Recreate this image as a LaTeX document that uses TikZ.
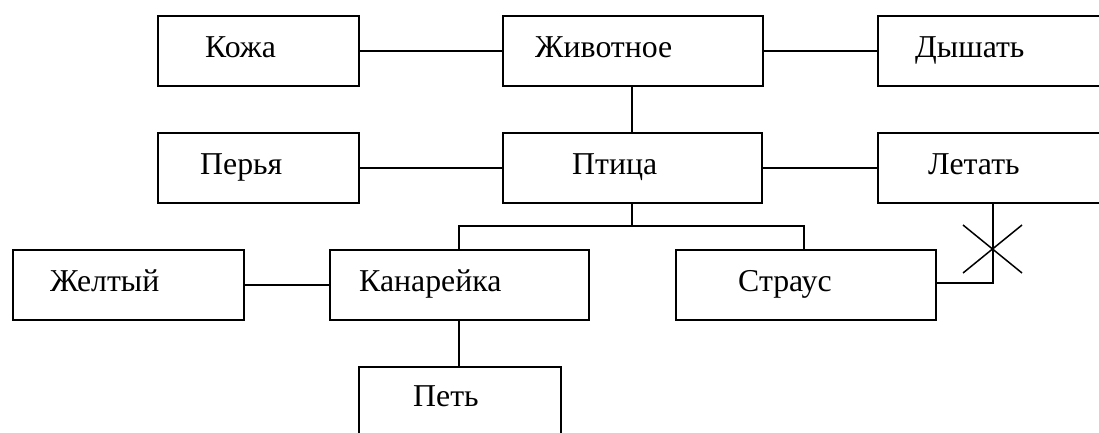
\documentclass[tikz,border=0pt]{standalone}
\usepackage{fontspec}
\setmainfont{Liberation Serif}
\begin{document}
\begin{tikzpicture}[x=1pt,y=-1pt,
  box/.style={draw,line width=2pt,rectangle,inner sep=0pt,anchor=north west,minimum height=70pt},
  lbl/.style={anchor=base west,inner sep=0pt,font=\fontsize{31.8}{36}\selectfont},
  conn/.style={line width=2pt}]
\useasboundingbox (0,0) rectangle (1099,432);
\clip (0,0) rectangle (1099,432);
% boxes
\node[box,minimum width=201pt] (kozha) at (157,15) {};
\node[box,minimum width=260pt] (zhiv) at (502,15) {};
\node[box,minimum width=260pt] (dysh) at (877,15) {};
\node[box,minimum width=201pt] (perya) at (157,132) {};
\node[box,minimum width=259pt] (ptica) at (502,132) {};
\node[box,minimum width=260pt] (letat) at (877,132) {};
\node[box,minimum width=231pt] (zhelt) at (12,249) {};
\node[box,minimum width=259pt] (kanar) at (329,249) {};
\node[box,minimum width=260pt] (straus) at (675,249) {};
\node[box,minimum width=202pt,minimum height=80pt] (pet) at (358,366) {};
% labels
\node[lbl] (tkozha) at (205,57) {Кожа};
\node[lbl] (tzhiv) at (535,57) {Животное};
\node[lbl] (tdysh) at (915,57) {Дышать};
\node[lbl] (tperya) at (200,174) {Перья};
\node[lbl] (tptica) at (572,174) {Птица};
\node[lbl] (tletat) at (928,174) {Летать};
\node[lbl] (tzhelt) at (50,291) {Желтый};
\node[lbl] (tkanar) at (359,291) {Канарейка};
\node[lbl] (tstraus) at (738,291) {Страус};
\node[lbl] (tpet) at (413,406) {Петь};
% coordinates
\coordinate (j1) at (632,226);
\coordinate (jk) at (459,226);
\coordinate (js) at (804,226);
\coordinate (cr) at (993,283);
\coordinate (xa) at (963,225);
\coordinate (xb) at (1022,273);
\coordinate (xd) at (1022,225);
\coordinate (xe) at (963,273);
% connectors
\draw[conn] (kozha.east) -- (zhiv.west);
\draw[conn] (zhiv.east) -- (dysh.west);
\draw[conn] (zhiv.south -| j1) -- (ptica.north -| j1);
\draw[conn] (perya.east) -- (ptica.west);
\draw[conn] (ptica.east) -- (letat.west);
\draw[conn] (ptica.south -| j1) -- (j1);
\draw[conn] (kanar.north -| jk) -- (jk) -- (js) -- (straus.north -| js);
\draw[conn] (zhelt.east) -- (kanar.west);
\draw[conn] (kanar.south -| jk) -- (pet.north -| jk);
\draw[conn] (straus.east |- cr) -- (cr) -- (letat.south -| cr);
\draw[line width=1.5pt] (xa) -- (xb);
\draw[line width=1.5pt] (xd) -- (xe);
\end{tikzpicture}
\end{document}
